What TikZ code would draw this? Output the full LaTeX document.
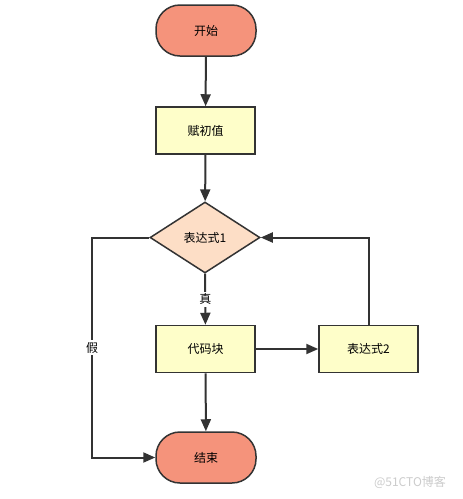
\documentclass[tikz,border=0pt]{standalone}
\usepackage{fontspec}
\newfontfamily\cjk{Noto Sans CJK SC}
\usetikzlibrary{arrows.meta,shapes.geometric}
\definecolor{termfill}{HTML}{F5937B}
\definecolor{procfill}{HTML}{FEFEC9}
\definecolor{decfill}{HTML}{FDDEC6}
\definecolor{edge}{HTML}{333333}
\definecolor{wm}{HTML}{CCCCCC}
\tikzset{
  base/.style={draw=edge, line width=1.5pt, inner sep=0pt, text=black, font=\cjk\fontsize{12}{14}\selectfont},
  term/.style={base, fill=termfill, rounded corners=24pt, minimum width=100pt, minimum height=51pt},
  proc/.style={base, fill=procfill, minimum width=99pt, minimum height=47pt},
  dec/.style={base, diamond, fill=decfill, minimum width=110pt, minimum height=71pt},
  arr/.style={draw=edge, line width=2pt, -{Triangle[length=12pt,width=10pt]}},
  lbl/.style={fill=white, inner sep=2pt, font=\cjk\fontsize{12}{14}\selectfont},
}
\begin{document}
\begin{tikzpicture}[x=1pt,y=-1pt]
\useasboundingbox[fill=white] (0,0) rectangle (463,499);
\node[term] (start) at (206,30.5) {开始};
\node[proc] (init) at (205.5,130.5) {赋初值};
\node[dec] (cond) at (205,237.5) {表达式1};
\node[proc] (code) at (205.5,349) {代码块};
\node[proc] (expr2) at (368.5,349) {表达式2};
\node[term] (end) at (206,457.5) {结束};
\coordinate (fl) at (92,237.5);
\coordinate (fb) at (92,457.5);
\draw[arr] (start) -- (init);
\draw[arr] (init) -- (cond);
\draw[arr] (cond) -- node[lbl] {真} (code);
\draw[arr] (code) -- (expr2);
\draw[arr] (code) -- (end);
\draw[arr] (expr2.north) |- (cond.east);
\draw[arr] (cond.west) -- (fl) -- node[lbl] {假} (fb) -- (end.west);
\node[text=wm, font=\cjk\fontsize{12}{14}\selectfont] (wmark) at (410,482) {@51CTO博客};
\end{tikzpicture}
\end{document}
